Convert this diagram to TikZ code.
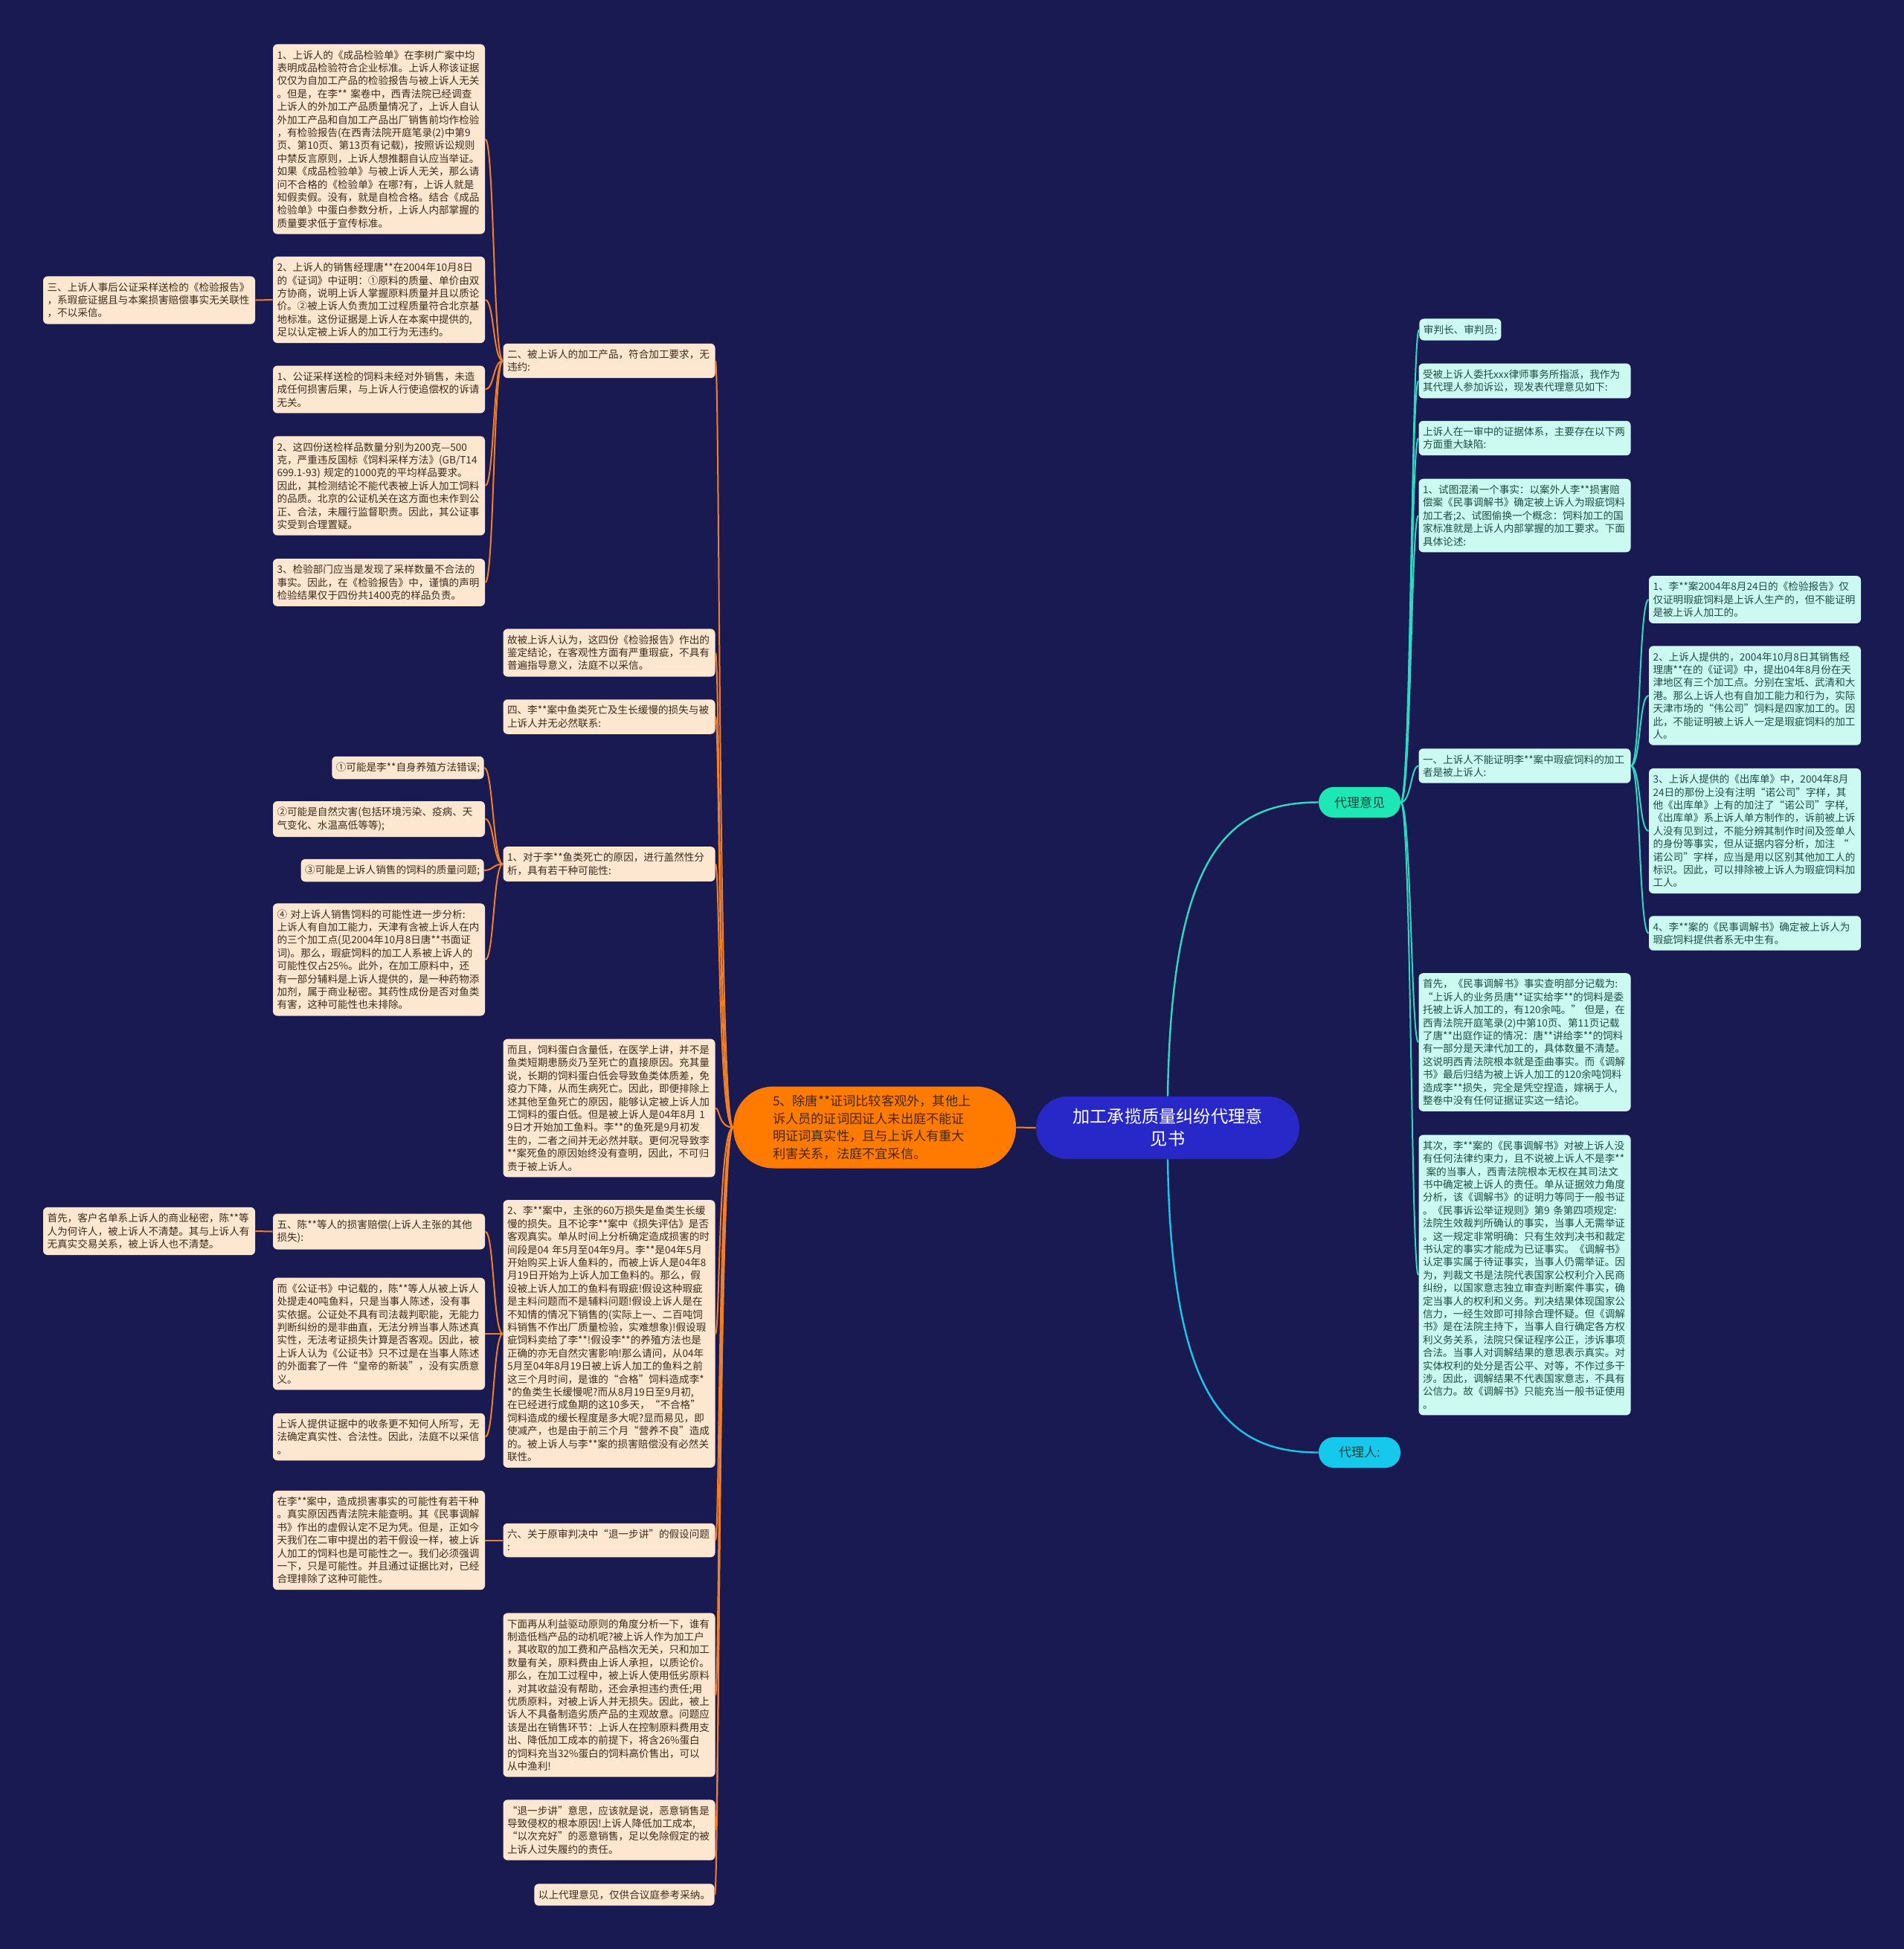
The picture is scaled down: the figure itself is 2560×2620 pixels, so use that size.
\documentclass[tikz,border=0pt]{standalone}
\usepackage{fontspec}
\setmainfont{Noto Sans CJK SC}
\usepackage{xcolor}
\usepackage{tikz}
\usetikzlibrary{calc,positioning}
\definecolor{Night}{HTML}{1A1A52}
\definecolor{Peach}{HTML}{FDE7D0}
\definecolor{Umber}{HTML}{3E2B1E}
\definecolor{Mint}{HTML}{CDFAF0}
\definecolor{Pine}{HTML}{1D4D44}
\definecolor{Ember}{HTML}{F07F26}
\definecolor{Tangerine}{HTML}{FF7B00}
\definecolor{Cocoa}{HTML}{4A2600}
\definecolor{Indigo}{HTML}{2828C8}
\definecolor{Aqua}{HTML}{2ED8C2}
\definecolor{Jade}{HTML}{1DE8B5}
\definecolor{Sky}{HTML}{16C9EC}
\definecolor{Deep}{HTML}{0E4A3E}

\begin{document}
\begin{tikzpicture}[x=0.5pt,y=-0.5pt,
  card/.style={fill=Peach,text=Umber,rounded corners=3pt,align=left,inner xsep=2.75pt,inner ysep=4.1pt,font=\fontsize{6.8}{8.7}\selectfont},
  lbox/.style={card,text width=137pt},
  rcard/.style={card,fill=Mint,text=Pine},
  rbox/.style={rcard,text width=137pt},
  pill/.style={rounded corners=10pt,minimum width=55pt,minimum height=20.5pt,inner sep=0pt,text=Deep,font=\fontsize{8.5}{10}\selectfont},
  lwire/.style={draw=Ember,line width=1pt},
  rwire/.style={draw=Aqua,line width=1pt}]
\fill[Night] (0,0) rectangle (2560,2620);
\useasboundingbox (0,0) rectangle (2560,2620);

\node[fill=Indigo,text=white,rounded corners=21pt,minimum width=177pt,minimum height=42pt,inner sep=0pt,text width=130pt,align=center,font=\fontsize{11.6}{15}\selectfont] (title) at (1570,1516) {加工承揽质量纠纷代理意\\见书};
\node[fill=Tangerine,text=Cocoa,rounded corners=27pt,minimum width=190pt,minimum height=55pt,inner sep=0pt,text width=137pt,align=left,font=\fontsize{8.6}{11.7}\selectfont] (witness) at (1176,1515.5) {5、除唐**证词比较客观外，其他上\\诉人员的证词因证人未出庭不能证\\明证词真实性，且与上诉人有重大\\利害关系，法庭不宜采信。};
\node[pill,fill=Jade] (opinion) at (1828,1078.5) {代理意见};
\node[pill,fill=Sky] (agent) at (1828,1952.5) {代理人:};

\node[lbox] (sec2) at (819,485) {二、被上诉人的加工产品，符合加工要求，无\\违约:};
\node[lbox] (checklist) at (509.5,187) {1、上诉人的《成品检验单》在李树广案中均\\表明成品检验符合企业标准。上诉人称该证据\\仅仅为自加工产品的检验报告与被上诉人无关\\。但是，在李**~案卷中，西青法院已经调查\\上诉人的外加工产品质量情况了，上诉人自认\\外加工产品和自加工产品出厂销售前均作检验\\，有检验报告(在西青法院开庭笔录(2)中第9\\页、第10页、第13页有记载)，按照诉讼规则\\中禁反言原则，上诉人想推翻自认应当举证。\\如果《成品检验单》与被上诉人无关，那么请\\问不合格的《检验单》在哪?有，上诉人就是\\知假卖假。没有，就是自检合格。结合《成品\\检验单》中蛋白参数分析，上诉人内部掌握的\\质量要求低于宣传标准。};
\node[lbox] (manager) at (509.5,403) {2、上诉人的销售经理唐**在2004年10月8日\\的《证词》中证明：①原料的质量、单价由双\\方协商，说明上诉人掌握原料质量并且以质论\\价。②被上诉人负责加工过程质量符合北京基\\地标准。这份证据是上诉人在本案中提供的,\\足以认定被上诉人的加工行为无违约。};
\node[lbox] (aftercheck) at (200.5,403.5) {三、上诉人事后公证采样送检的《检验报告》\\，系瑕疵证据且与本案损害赔偿事实无关联性\\，不以采信。};
\node[lbox] (sample1) at (509.5,523.5) {1、公证采样送检的饲料未经对外销售，未造\\成任何损害后果，与上诉人行使追偿权的诉请\\无关。};
\node[lbox] (sample2) at (509.5,653) {2、这四份送检样品数量分别为200克—500\\克，严重违反国标《饲料采样方法》(GB/T14\\699.1-93)~规定的1000克的平均样品要求。\\因此，其检测结论不能代表被上诉人加工饲料\\的品质。北京的公证机关在这方面也未作到公\\正、合法，未履行监督职责。因此，其公证事\\实受到合理置疑。};
\node[lbox] (sample3) at (509.5,783) {3、检验部门应当是发现了采样数量不合法的\\事实。因此，在《检验报告》中，谨慎的声明\\检验结果仅于四份共1400克的样品负责。};

\node[lbox] (report) at (819,877.5) {故被上诉人认为，这四份《检验报告》作出的\\鉴定结论，在客观性方面有严重瑕疵，不具有\\普遍指导意义，法庭不以采信。};
\node[lbox] (sec4) at (819,963.5) {四、李**案中鱼类死亡及生长缓慢的损失与被\\上诉人并无必然联系:};
\node[lbox] (causes) at (819,1161.5) {1、对于李**鱼类死亡的原因，进行盖然性分\\析，具有若干种可能性:};
\node[card,anchor=east] (maybeA) at (651,1032) {①可能是李**自身养殖方法错误;};
\node[lbox] (maybeB) at (509.5,1101) {②可能是自然灾害(包括环境污染、疫病、天\\气变化、水温高低等等);};
\node[card,anchor=east] (maybeC) at (651,1170) {③可能是上诉人销售的饲料的质量问题;};
\node[lbox] (maybeD) at (509.5,1290) {④~对上诉人销售饲料的可能性进一步分析:\\上诉人有自加工能力，天津有含被上诉人在内\\的三个加工点(见2004年10月8日唐**书面证\\词)。那么，瑕疵饲料的加工人系被上诉人的\\可能性仅占25\%。此外，在加工原料中，还\\有一部分辅料是上诉人提供的，是一种药物添\\加剂，属于商业秘密。其药性成份是否对鱼类\\有害，这种可能性也未排除。};

\node[lbox] (protein) at (819,1489.5) {而且，饲料蛋白含量低，在医学上讲，并不是\\鱼类短期患肠炎乃至死亡的直接原因。充其量\\说，长期的饲料蛋白低会导致鱼类体质差，免\\疫力下降，从而生病死亡。因此，即便排除上\\述其他至鱼死亡的原因，能够认定被上诉人加\\工饲料的蛋白低。但是被上诉人是04年8月~1\\9日才开始加工鱼料。李**的鱼死是9月初发\\生的，二者之间并无必然并联。更何况导致李\\{}**案死鱼的原因始终没有查明，因此，不可归\\责于被上诉人。};
\node[lbox] (loss) at (819,1793) {2、李**案中，主张的60万损失是鱼类生长缓\\慢的损失。且不论李**案中《损失评估》是否\\客观真实。单从时间上分析确定造成损害的时\\间段是04~年5月至04年9月。李**是04年5月\\开始购买上诉人鱼料的，而被上诉人是04年8\\月19日开始为上诉人加工鱼料的。那么，假\\设被上诉人加工的鱼料有瑕疵!假设这种瑕疵\\是主料问题而不是辅料问题!假设上诉人是在\\不知情的情况下销售的(实际上一、二百吨饲\\料销售不作出厂质量检验，实难想象)!假设瑕\\疵饲料卖给了李**!假设李**的养殖方法也是\\正确的亦无自然灾害影响!那么请问，从04年\\5月至04年8月19日被上诉人加工的鱼料之前\\这三个月时间，是谁的“合格”饲料造成李*\\{}*的鱼类生长缓慢呢?而从8月19日至9月初,\\在已经进行成鱼期的这10多天，“不合格”\\饲料造成的缓长程度是多大呢?显而易见，即\\使减产，也是由于前三个月“营养不良”造成\\的。被上诉人与李**案的损害赔偿没有必然关\\联性。};
\node[lbox] (sec5) at (509.5,1655.5) {五、陈**等人的损害赔偿(上诉人主张的其他\\损失):};
\node[lbox] (clients) at (200.5,1655) {首先，客户名单系上诉人的商业秘密，陈**等\\人为何许人，被上诉人不清楚。其与上诉人有\\无真实交易关系，被上诉人也不清楚。};
\node[lbox] (notary) at (509.5,1793) {而《公证书》中记载的，陈**等人从被上诉人\\处提走40吨鱼料，只是当事人陈述，没有事\\实依据。公证处不具有司法裁判职能，无能力\\判断纠纷的是非曲直，无法分辨当事人陈述真\\实性，无法考证损失计算是否客观。因此，被\\上诉人认为《公证书》只不过是在当事人陈述\\的外面套了一件“皇帝的新装”，没有实质意\\义。};
\node[lbox] (receipt) at (509.5,1931.5) {上诉人提供证据中的收条更不知何人所写，无\\法确定真实性、合法性。因此，法庭不以采信\\。};

\node[lbox] (sec6) at (819,2070.5) {六、关于原审判决中“退一步讲”的假设问题\\:};
\node[lbox] (possible) at (509.5,2070.5) {在李**案中，造成损害事实的可能性有若干种\\。真实原因西青法院未能查明。其《民事调解\\书》作出的虚假认定不足为凭。但是，正如今\\天我们在二审中提出的若干假设一样，被上诉\\人加工的饲料也是可能性之一。我们必须强调\\一下，只是可能性。并且通过证据比对，已经\\合理排除了这种可能性。};
\node[lbox] (motive) at (819,2278.5) {下面再从利益驱动原则的角度分析一下，谁有\\制造低档产品的动机呢?被上诉人作为加工户\\，其收取的加工费和产品档次无关，只和加工\\数量有关，原料费由上诉人承担，以质论价。\\那么，在加工过程中，被上诉人使用低劣原料\\，对其收益没有帮助，还会承担违约责任;用\\优质原料，对被上诉人并无损失。因此，被上\\诉人不具备制造劣质产品的主观故意。问题应\\该是出在销售环节：上诉人在控制原料费用支\\出、降低加工成本的前提下，将含26\%蛋白\\的饲料充当32\%蛋白的饲料高价售出，可以\\从中渔利!};
\node[lbox] (stepback) at (819,2460) {“退一步讲”意思，应该就是说，恶意销售是\\导致侵权的根本原因!上诉人降低加工成本,\\“以次充好”的恶意销售，足以免除假定的被\\上诉人过失履约的责任。};
\node[card,anchor=east] (closing) at (961,2547) {以上代理意见，仅供合议庭参考采纳。};

\node[rcard,anchor=west] (judges) at (1908,443) {审判长、审判员:};
\node[rbox] (mandate) at (2050,512) {受被上诉人委托xxx律师事务所指派，我作为\\其代理人参加诉讼，现发表代理意见如下:};
\node[rbox] (defects) at (2050,589) {上诉人在一审中的证据体系，主要存在以下两\\方面重大缺陷:};
\node[rbox] (confuse) at (2050,693) {1、试图混淆一个事实：以案外人李**损害赔\\偿案《民事调解书》确定被上诉人为瑕疵饲料\\加工者;2、试图偷换一个概念：饲料加工的国\\家标准就是上诉人内部掌握的加工要求。下面\\具体论述:};
\node[rbox] (sec1) at (2050,1029.5) {一、上诉人不能证明李**案中瑕疵饲料的加工\\者是被上诉人:};
\node[rbox] (firstly) at (2050,1401) {首先，《民事调解书》事实查明部分记载为:\\“上诉人的业务员唐**证实给李**的饲料是委\\托被上诉人加工的，有120余吨。”~但是，在\\西青法院开庭笔录(2)中第10页、第11页记载\\了唐**出庭作证的情况：唐**讲给李**的饲料\\有一部分是天津代加工的，具体数量不清楚。\\这说明西青法院根本就是歪曲事实。而《调解\\书》最后归结为被上诉人加工的120余吨饲料\\造成李**损失，完全是凭空捏造，嫁祸于人,\\整卷中没有任何证据证实这一结论。};
\node[rbox] (secondly) at (2050,1714) {其次，李**案的《民事调解书》对被上诉人没\\有任何法律约束力，且不说被上诉人不是李**\\~案的当事人，西青法院根本无权在其司法文\\书中确定被上诉人的责任。单从证据效力角度\\分析，该《调解书》的证明力等同于一般书证\\。《民事诉讼举证规则》第9~条第四项规定:\\法院生效裁判所确认的事实，当事人无需举证\\。这一规定非常明确：只有生效判决书和裁定\\书认定的事实才能成为已证事实。《调解书》\\认定事实属于待证事实，当事人仍需举证。因\\为，判裁文书是法院代表国家公权利介入民商\\纠纷，以国家意志独立审查判断案件事实，确\\定当事人的权利和义务。判决结果体现国家公\\信力，一经生效即可排除合理怀疑。但《调解\\书》是在法院主持下，当事人自行确定各方权\\利义务关系，法院只保证程序公正，涉诉事项\\合法。当事人对调解结果的意思表示真实。对\\实体权利的处分是否公平、对等，不作过多干\\涉。因此，调解结果不代表国家意志，不具有\\公信力。故《调解书》只能充当一般书证使用\\。};
\node[rbox] (proof1) at (2359.5,806) {1、李**案2004年8月24日的《检验报告》仅\\仅证明瑕疵饲料是上诉人生产的，但不能证明\\是被上诉人加工的。};
\node[rbox] (proof2) at (2359.5,935) {2、上诉人提供的，2004年10月8日其销售经\\理唐**在的《证词》中，提出04年8月份在天\\津地区有三个加工点。分别在宝坻、武清和大\\港。那么上诉人也有自加工能力和行为，实际\\天津市场的“伟公司”饲料是四家加工的。因\\此，不能证明被上诉人一定是瑕疵饲料的加工\\人。};
\node[rbox] (proof3) at (2359.5,1117) {3、上诉人提供的《出库单》中，2004年8月\\24日的那份上没有注明“诺公司”字样，其\\他《出库单》上有的加注了“诺公司”字样,\\《出库单》系上诉人单方制作的，诉前被上诉\\人没有见到过，不能分辨其制作时间及签单人\\的身份等事实，但从证据内容分析，加注~“\\诺公司”字样，应当是用以区别其他加工人的\\标识。因此，可以排除被上诉人为瑕疵饲料加\\工人。};
\node[rbox] (proof4) at (2359.5,1254.5) {4、李**案的《民事调解书》确定被上诉人为\\瑕疵饲料提供者系无中生有。};

\draw[lwire] (witness.east)--(title.west);
\draw[draw=Aqua,line width=1.2pt] (title.north) .. controls +(5,-324) and +(-123,0) .. (opinion.west);
\draw[draw=Sky,line width=1.2pt] (title.south) .. controls +(5,322) and +(-123,0) .. (agent.west);
\foreach \k in {sec2,report,sec4,causes,protein,loss,sec6,motive,stepback,closing}
  \draw[lwire] (witness.west) .. controls ([xshift=-10pt]witness.west) and ([xshift=3pt]\k.east) .. (\k.east);
\foreach \k in {checklist,manager,sample1,sample2,sample3}
  \draw[lwire] (sec2.west) .. controls ([xshift=-6.5pt]sec2.west) and ([xshift=6pt]\k.east) .. (\k.east);
\foreach \k in {maybeA,maybeB,maybeC,maybeD}
  \draw[lwire] (causes.west) .. controls ([xshift=-6.5pt]causes.west) and ([xshift=6pt]\k.east) .. (\k.east);
\foreach \k in {sec5,notary,receipt}
  \draw[lwire] (loss.west) .. controls ([xshift=-6.5pt]loss.west) and ([xshift=6pt]\k.east) .. (\k.east);
\draw[lwire] (manager.west)--(aftercheck.east);
\draw[lwire] (sec5.west)--(clients.east);
\draw[lwire] (sec6.west)--(possible.east);
\foreach \k in {judges,mandate,defects,confuse,sec1,firstly,secondly}
  \draw[rwire] (opinion.east) .. controls ([xshift=7pt]opinion.east) and ([xshift=-5pt]\k.west) .. (\k.west);
\foreach \k in {proof1,proof2,proof3,proof4}
  \draw[rwire] (sec1.east) .. controls ([xshift=6.5pt]sec1.east) and ([xshift=-6.5pt]\k.west) .. (\k.west);
\end{tikzpicture}
\end{document}
